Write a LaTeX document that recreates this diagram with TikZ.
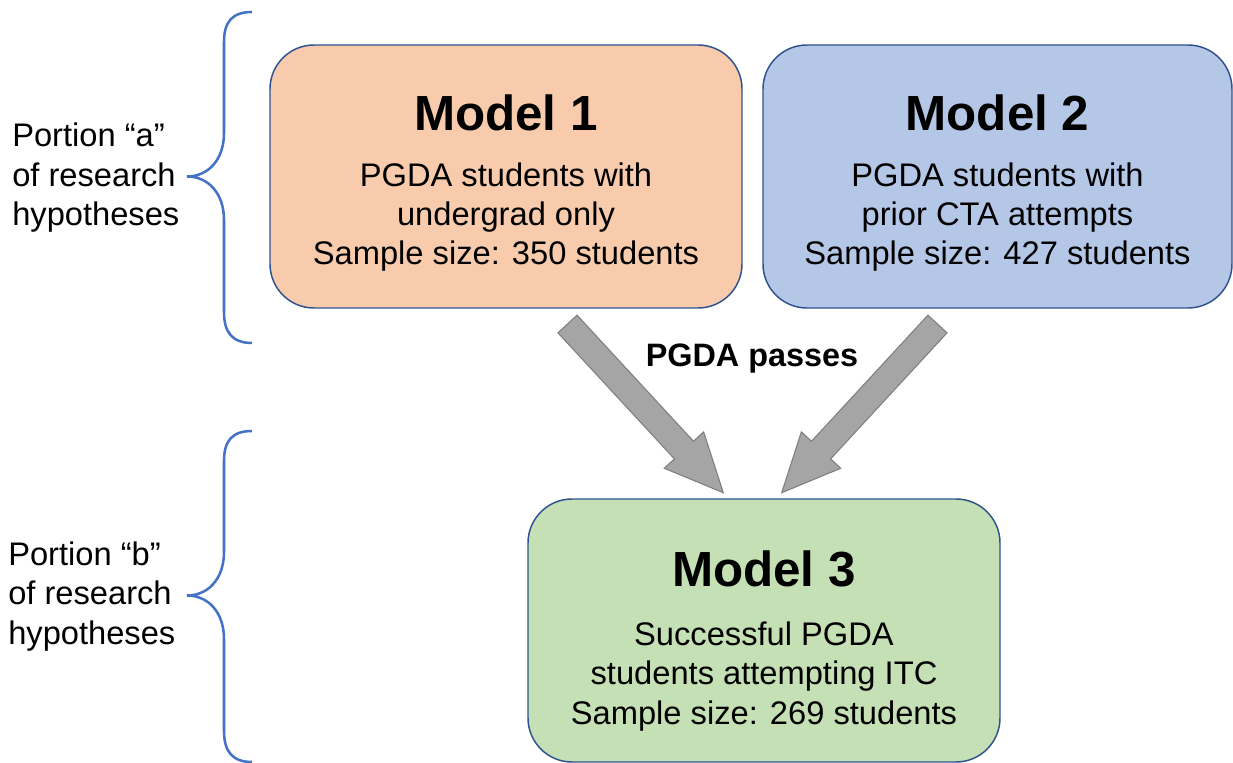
\documentclass[tikz,border=0pt]{standalone}
\usepackage{fontspec}
\setmainfont{Liberation Sans}
\usetikzlibrary{calc,positioning}

\definecolor{peach}{HTML}{F8CBAD}
\definecolor{paleblue}{HTML}{B4C7E7}
\definecolor{palegreen}{HTML}{C5E0B4}
\definecolor{boxedge}{HTML}{2F528F}
\definecolor{bracecol}{HTML}{4472C4}
\definecolor{arrowfill}{HTML}{A5A5A5}
\definecolor{arrowedge}{HTML}{7F7F7F}

\tikzset{
  modelbox/.style={draw=boxedge, line width=1.1pt, rounded corners=33pt, inner sep=0pt,
    minimum width=354pt, minimum height=197.25pt},
  modeltitle/.style={anchor=base, inner sep=0pt, font=\fontsize{37}{44}\selectfont\bfseries},
  modeltext/.style={anchor=base, inner sep=0pt, align=center, font=\fontsize{24.5}{29.6}\selectfont},
  portion/.style={anchor=base west, inner sep=0pt, align=left, font=\fontsize{24.5}{29.6}\selectfont},
  % curly bracket, drawn from its upper end
  hypbrace/.pic={
    \draw[bracecol, line width=1.9pt]
      (0,0) .. controls (-20,0) and (-28,10) .. (-28,30) -- (-28,121)
      .. controls (-28,148) and (-44,164.5) .. (-65,164.5)
      .. controls (-44,164.5) and (-28,181) .. (-28,208) -- (-28,300)
      .. controls (-28,320) and (-20,331) .. (0,331);
  },
  % wide block arrow between two points
  flowarrow/.style={draw=arrowedge, fill=arrowfill, line width=0.8pt,
    to path={let \p1=($(\tikztotarget)-(\tikztostart)$), \n1={atan2(\y1,\x1)},
        \n2={veclen(\x1,\y1)-43.5} in
      ($(\tikztostart)+(\n1+90:9.75pt)$) -- ($(\tikztostart)+(\n1:\n2)+(\n1+90:9.75pt)$)
      -- ($(\tikztostart)+(\n1:\n2)+(\n1+90:20.1pt)$) -- (\tikztotarget)
      -- ($(\tikztostart)+(\n1:\n2)+(\n1-90:20.1pt)$)
      -- ($(\tikztostart)+(\n1:\n2)+(\n1-90:9.75pt)$)
      -- ($(\tikztostart)+(\n1-90:9.75pt)$) -- cycle}}
}

\begin{document}
\begin{tikzpicture}[x=0.75pt, y=-0.75pt]
  \useasboundingbox (0,0) rectangle (1233,763);

  % the three models
  \node[modelbox, fill=peach] (m1) at (506,176.5) {};
  \node[modelbox, fill=paleblue, minimum width=351.75pt] (m2) at (997.5,176.5) {};
  \node[modelbox, fill=palegreen] (m3) at (764,630.5) {};

  % text lines sit on the baseline of their last row
  \node[modeltitle] (t1) at ($(m1.north)+(0,86.7)$) {Model 1};
  \node[modeltext] (d1) at ($(m1.north)+(0,220.7)$)
    {PGDA students with\\undergrad only\\Sample size: 350 students};
  \node[modeltitle] (t2) at ($(m2.north)+(0,86.7)$) {Model 2};
  \node[modeltext] (d2) at ($(m2.north)+(0,220.7)$)
    {PGDA students with\\prior CTA attempts\\Sample size: 427 students};
  \node[modeltitle] (t3) at ($(m3.north)+(0,88.3)$) {Model 3};
  \node[modeltext] (d3) at ($(m3.north)+(0,226)$)
    {Successful PGDA\\students attempting ITC\\Sample size: 269 students};

  % arrows into model 3
  \coordinate (tailL) at (567.5,324);
  \coordinate (tipL) at (723.3,492.7);
  \coordinate (tailR) at (937.5,324);
  \coordinate (tipR) at (781.7,492.7);
  \draw[flowarrow] (tailL) to (tipL);
  \draw[flowarrow] (tailR) to (tipR);
  \node[anchor=base, inner sep=0pt, font=\fontsize{24.3}{29}\selectfont\bfseries]
    (pass) at (752,366.7) {PGDA passes};

  % hypothesis brackets
  \pic at (252,12) {hypbrace};
  \pic at (252,431) {hypbrace};
  \node[portion] (pa) at (12,225.7) {Portion “a”\\of research\\hypotheses};
  \node[portion] (pb) at (8,644) {Portion “b”\\of research\\hypotheses};
\end{tikzpicture}
\end{document}
